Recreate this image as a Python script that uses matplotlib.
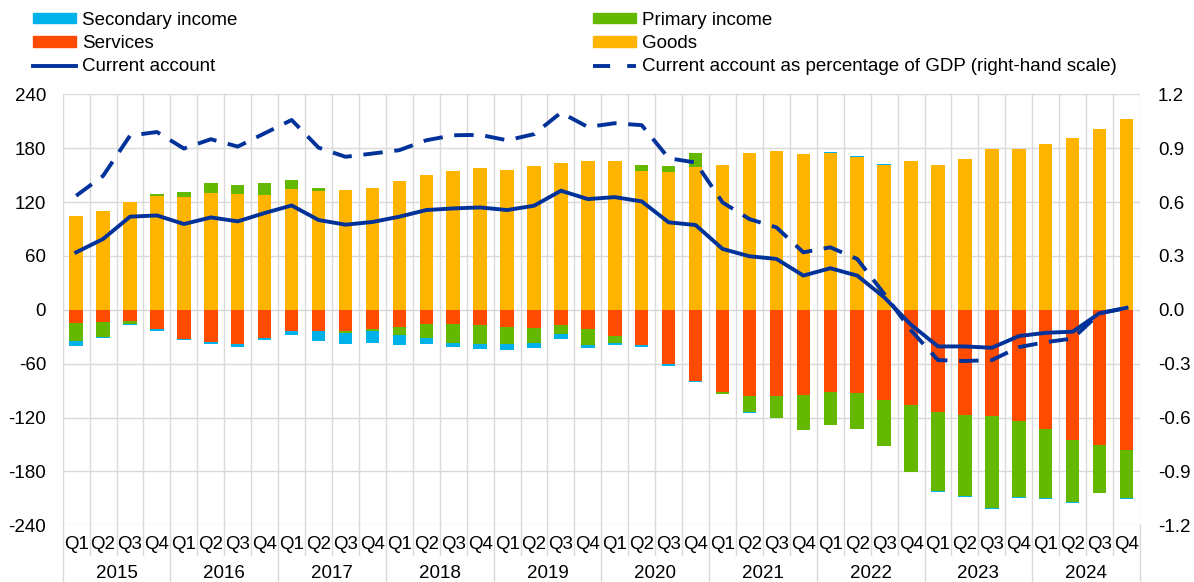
import matplotlib
matplotlib.use('Agg')
import matplotlib.pyplot as plt
import numpy as np
from matplotlib.patches import Patch
from matplotlib.lines import Line2D
from matplotlib.transforms import blended_transform_factory

plt.rcParams['font.family'] = ['Liberation Sans', 'DejaVu Sans']

years = ['2015', '2016', '2017', '2018', '2019', '2020', '2021', '2022', '2023', '2024']
quarters = ['Q1', 'Q2', 'Q3', 'Q4']

# EUR bn
goods = [105, 110, 120.5, 126.8, 125.3, 129.8, 129, 128.3, 134.6, 132, 133.5, 135.7,
         143, 149.9, 154.7, 157.7, 156.2, 159.6, 164, 165.2, 165.2, 154.7, 153.2, 158.8,
         161, 174.8, 177, 173.3, 174.8, 170.3, 161.8, 165.8, 161.4, 168, 179.2, 179.2,
         184.8, 191.2, 200.9, 212.4]
services = [-15.2, -13.3, -12.6, -21.5, -32.6, -35.9, -38.1, -31.5, -24, -24, -23.7, -21.5,
            -19.6, -16.3, -16.3, -17, -18.9, -20.4, -17, -21.5, -29.3, -39.6, -60.7, -79.6,
            -91.9, -96.3, -95.6, -95.2, -91.5, -92.6, -100.4, -106.3, -114, -117, -117.8, -124.1,
            -133, -145.2, -150.4, -156.3]
primary = [-19.6, -16.7, -3.3, 2.2, 5.7, 11.2, 10.5, 12.7, 10, 3.7, -2.6, -2.2,
           -8.2, -15.2, -21.1, -21.1, -19.6, -17, -9.7, -18.1, -7.7, 7.1, 6.8, 16,
           -1.8, -17, -24.4, -38.5, -37, -40.7, -51.5, -74.1, -88.2, -90.8, -102.9, -84.4,
           -76.6, -69.2, -53.3, -53]
secondary = [-5.6, -1.5, -1.1, -2.5, -1.4, -2.6, -2.9, -2.2, -4, -11.2, -12.2, -13,
             -11.5, -6.3, -4.5, -5.9, -6.7, -5.2, -5.9, -3, -2.3, -1.5, -1.9, -0.8,
             -0.4, -1.5, -0.7, -0.7, 1.0, 0.8, 0.8, -0.7, -1.1, -1.1, -0.8, -0.8,
             -1.1, -1.2, -0.7, -1.1]
current_account = [64, 78.9, 103.7, 105.1, 95.5, 102.9, 98.5, 107.8, 116.2, 100, 94.8, 97.8,
                   103.7, 111.1, 112.9, 114, 111.1, 115.9, 132.6, 123.3, 125.5, 120.7, 97.4, 94.4,
                   67.8, 59.6, 56.7, 38.1, 46.3, 38.1, 14, -16.7, -40.8, -40.8, -42.3, -29.3,
                   -25.6, -24.4, -3.7, 2.2]
ca_pct_gdp = [0.635, 0.746, 0.97, 0.99, 0.898, 0.95, 0.909, 0.983, 1.057, 0.903, 0.852, 0.87,
              0.889, 0.944, 0.972, 0.974, 0.944, 0.978, 1.098, 1.018, 1.039, 1.028, 0.844, 0.82,
              0.598, 0.505, 0.459, 0.32, 0.348, 0.283, 0.089, -0.115, -0.28, -0.285, -0.28, -0.208,
              -0.18, -0.16, -0.02, 0.01]

c_sec = '#00B1EA'
c_prim = '#65B800'
c_serv = '#FF4B00'
c_goods = '#FFB400'
c_line = '#003299'
c_grid = '#d9d9d9'

n = len(goods)
x = np.arange(n)

fig = plt.figure(figsize=(11.94, 5.82), dpi=100)
W, H = 1194, 582
left, right, top, bottom = 62.7, 1140, 94.3, 525.3
ax = fig.add_axes([left / W, 1 - bottom / H, (right - left) / W, (bottom - top) / H])

# stack positives and negatives separately
pos_base = np.zeros(n)
neg_base = np.zeros(n)
width = 0.5
for vals, col in [(goods, c_goods), (services, c_serv), (primary, c_prim), (secondary, c_sec)]:
    v = np.array(vals, dtype=float)
    p = np.where(v > 0, v, 0)
    m = np.where(v < 0, v, 0)
    ax.bar(x, p, width, bottom=pos_base, color=col, zorder=2, linewidth=0)
    ax.bar(x, m, width, bottom=neg_base, color=col, zorder=2, linewidth=0)
    pos_base += p
    neg_base += m

ax.plot(x, current_account, color=c_line, lw=2.8, zorder=4, solid_joinstyle='round')

ax.set_xlim(-0.5, n - 0.5)
ax.set_ylim(-240, 240)
ax.set_yticks(np.arange(-240, 241, 60))
ax.set_yticklabels([str(v) for v in range(-240, 241, 60)])
ax.yaxis.grid(True, color=c_grid, lw=1, zorder=0)
ax.set_axisbelow(True)
for s in ax.spines.values():
    s.set_visible(False)
ax.tick_params(axis='y', length=0, pad=12, labelsize=13.5, colors='#000000')

ax.set_xticks(x)
ax.set_xticklabels(quarters * len(years))
ax.tick_params(axis='x', length=0, pad=8, labelsize=13.5)

# quarter and year separators
trans = blended_transform_factory(ax.transData, fig.transFigure)
for i in range(n + 1):
    xb = i - 0.5
    ax.axvline(xb, color=c_grid, lw=1, zorder=0)
    y_end = 0.0 if i % 4 == 0 else 1 - 555 / H
    ax.add_line(Line2D([xb, xb], [1 - bottom / H, y_end], transform=trans,
                       color=c_grid, lw=1, clip_on=False))
for k, yr in enumerate(years):
    fig.text(4 * k + 1.5, 1 - 573 / H, yr, transform=trans, ha='center', va='center',
             fontsize=13.5)

ax2 = ax.twinx()
ax2.plot(x, ca_pct_gdp, color=c_line, lw=2.8, dashes=(5, 3), zorder=4)
ax2.set_ylim(-1.2, 1.2)
ticks_r = np.arange(-1.2, 1.21, 0.3)
ax2.set_yticks(ticks_r)
ax2.set_yticklabels([f'{v:.1f}'.replace('-0.0', '0.0') for v in ticks_r])
ax2.tick_params(axis='y', length=0, pad=13, labelsize=13.5)
for s in ax2.spines.values():
    s.set_visible(False)

h1 = [Patch(color=c_sec), Patch(color=c_serv), Line2D([], [], color=c_line, lw=2.8)]
l1 = ['Secondary income', 'Services', 'Current account']
h2 = [Patch(color=c_prim), Patch(color=c_goods),
      Line2D([], [], color=c_line, lw=2.8, dashes=(4.4, 4.4))]
l2 = ['Primary income', 'Goods', 'Current account as percentage of GDP (right-hand scale)']
kw = dict(frameon=False, fontsize=13.5, handlelength=2.3, handleheight=0.45,
          handletextpad=0.3, labelspacing=0.33, borderpad=0, borderaxespad=0, loc='upper left')
fig.legend(h1, l1, bbox_to_anchor=(33 / W, 1 - 12 / H), **kw)
fig.legend(h2, l2, bbox_to_anchor=(593 / W, 1 - 12 / H), **kw)

fig.savefig('out.png', dpi=100)
